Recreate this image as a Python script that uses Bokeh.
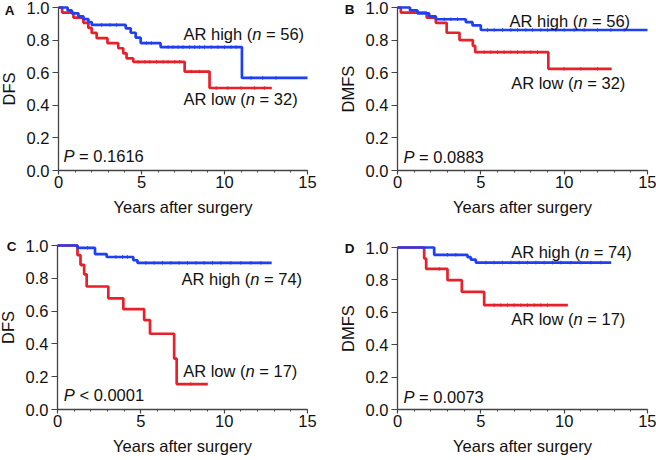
import numpy as np
from bokeh.plotting import figure
from bokeh.models import Range1d, FixedTicker, PrintfTickFormatter
from bokeh.layouts import column, row
from bokeh.core.properties import value
from bokeh.embed import file_html
from bokeh.resources import INLINE

FONT = "Liberation Sans"
FS = 16.5
BLUE = "#1f3ff2"
RED = "#e8202a"
AXC = "#444444"
TXT = "#111111"

# ---------------- data ----------------
x_ticks = [0, 5, 10, 15]
y_ticks = [0.0, 0.2, 0.4, 0.6, 0.8, 1.0]

# Panel A (DFS, AR high n=56 vs low n=32)
A_high_t = [0, 0.55, 0.8, 1.2, 1.5, 1.8, 2.0, 4.05, 4.35, 4.65, 4.95, 6.15, 11.05]
A_high_s = [1.0, 0.982, 0.964, 0.946, 0.929, 0.911, 0.893, 0.872, 0.845, 0.815, 0.782, 0.757, 0.568]
A_high_end = 15.0
A_high_cens = [2.6, 3.1, 3.5, 5.3, 5.6, 6.6, 6.9, 7.2, 7.5, 7.9, 8.2, 8.5, 8.8, 9.2, 9.6, 10.0, 10.4, 10.7, 11.6, 12.3, 13.1]
A_low_t = [0, 0.22, 0.9, 1.5, 1.8, 2.0, 2.3, 2.95, 3.6, 3.9, 4.1, 4.5, 7.6, 9.1]
A_low_s = [1.0, 0.969, 0.938, 0.906, 0.875, 0.844, 0.812, 0.781, 0.750, 0.719, 0.688, 0.667, 0.607, 0.506]
A_low_end = 12.85
A_low_cens = [4.8, 5.2, 5.5, 5.9, 6.3, 6.6, 7.0, 7.3, 8.0, 8.5, 9.5, 10.2, 11.0, 11.8, 12.4]

# Panel B (DMFS, AR high n=56 vs low n=32)
B_high_t = [0, 0.75, 1.2, 1.9, 2.3, 4.1, 4.5, 5.0]
B_high_s = [1.0, 0.982, 0.964, 0.946, 0.928, 0.910, 0.890, 0.862]
B_high_end = 15.0
B_high_cens = [2.8, 3.2, 3.6, 5.4, 5.8, 6.3, 6.8, 7.2, 7.7, 8.1, 8.6, 9.0, 9.5, 10.0, 10.6, 11.2, 12.0, 12.8, 13.6]
B_low_t = [0, 0.2, 1.75, 2.3, 2.95, 3.72, 4.52, 4.66, 9.05]
B_low_s = [1.0, 0.969, 0.938, 0.906, 0.845, 0.800, 0.765, 0.726, 0.624]
B_low_end = 12.85
B_low_cens = [5.2, 5.6, 6.0, 6.4, 6.8, 7.2, 7.6, 8.0, 8.4, 10.0, 11.0, 12.0]

# Panel C (DFS, AR high n=74 vs low n=17)
C_high_t = [0, 1.2, 2.25, 2.95, 4.55, 4.8]
C_high_s = [1.0, 0.986, 0.948, 0.930, 0.910, 0.894]
C_high_end = 12.85
C_high_cens = [1.8, 3.5, 3.9, 4.2, 5.3, 5.8, 6.3, 6.8, 7.3, 7.8, 8.3, 8.8, 9.3, 9.8, 10.4, 11.0, 11.6, 12.2]
C_low_t = [0, 1.2, 1.38, 1.6, 1.75, 3.05, 3.95, 5.2, 5.55, 7.0, 7.15]
C_low_s = [1.0, 0.941, 0.882, 0.824, 0.750, 0.678, 0.612, 0.545, 0.462, 0.310, 0.155]
C_low_end = 9.02
C_low_cens = [1.45, 8.0]

# Panel D (DMFS, AR high n=74 vs low n=17)
D_high_t = [0, 2.2, 4.2, 4.4, 4.7]
D_high_s = [1.0, 0.955, 0.940, 0.925, 0.907]
D_high_end = 12.82
D_high_cens = [3.0, 3.5, 5.3, 5.8, 6.3, 6.8, 7.3, 7.8, 8.3, 8.8, 9.3, 9.8, 10.4, 11.0, 11.6, 12.2]
D_low_t = [0, 1.6, 1.72, 3.0, 3.86, 5.2]
D_low_s = [1.0, 0.932, 0.868, 0.798, 0.726, 0.644]
D_low_end = 10.22
D_low_cens = [2.5, 5.8, 6.2, 6.6, 7.0, 7.4, 7.8, 8.2, 8.6, 9.0]

y_titles = {"A": "DFS", "B": "DMFS", "C": "DFS", "D": "DMFS"}
n_high = {"A": "56", "B": "56", "C": "74", "D": "74"}
n_low = {"A": "32", "B": "32", "C": "17", "D": "17"}
p_text = {"A": "= 0.1616", "B": "= 0.0883", "C": "< 0.0001", "D": "= 0.0073"}

# ---------------- helpers ----------------
ARIAL = {' ': 278, '(': 333, ')': 333, '=': 584, '<': 584, '.': 278, 'A': 667, 'R': 722,
         'P': 667, 'h': 556, 'i': 222, 'g': 556, 'l': 222, 'o': 556, 'w': 722, 'n': 556}


def tw(s):
    return sum(ARIAL.get(c, 556) for c in s) * FS / 1000.0


def rich_text(p, x, y, parts):
    off = 0.0
    for txt, ital in parts:
        lead = len(txt) - len(txt.lstrip(" "))
        off += tw(" " * lead)
        t = txt.strip(" ")
        p.text(x=[x], y=[y], text=[t], x_offset=off, text_font=value(FONT),
               text_font_size=f"{FS}px", text_font_style="italic" if ital else "normal",
               text_baseline="middle", text_align="left", text_color=TXT)
        off += tw(t) + tw(" " * (len(txt) - lead - len(t)))


def surv_at(ts, ss, t):
    i = int(np.searchsorted(np.array(ts), t, side="right")) - 1
    return ss[max(i, 0)]


def draw_curve(p, ts, ss, end, cens, color):
    xs = list(ts) + [end]
    ys = list(ss) + [ss[-1]]
    p.step(xs, ys, mode="after", line_color=color, line_width=2.7)
    cy = [surv_at(ts, ss, c) for c in cens]
    p.scatter(cens, cy, marker="dash", angle=np.pi / 2, size=3.5, line_color=color, line_width=1.0)


def make_fig(letter, W, H, x0px, x15px, y1px, y0px, letter_px):
    """The frame covers the whole panel; axes are pinned at t=0 and S=0.
    x0px/x15px: pixel columns of t=0 / t=15; y1px/y0px: pixel rows of S=1 / S=0."""
    kx = (x15px - x0px) / 15.0
    ky = (y0px - y1px) / 1.0
    xr = Range1d(-x0px / kx, (W - x0px) / kx)
    yr = Range1d((y0px - H) / ky, y0px / ky)
    p = figure(width=W, height=H, x_range=xr, y_range=yr,
               output_backend="svg", toolbar_location=None,
               min_border_left=0, min_border_right=0,
               min_border_top=0, min_border_bottom=0)
    p.outline_line_color = None
    p.grid.visible = False
    p.background_fill_color = "white"
    p.border_fill_color = "white"
    for ax in (p.xaxis[0], p.yaxis[0]):
        ax.fixed_location = 0
        ax.axis_line_color = AXC
        ax.axis_line_width = 1.3
        ax.major_tick_line_color = AXC
        ax.minor_tick_line_color = AXC
        ax.major_tick_line_width = 1.2
        ax.major_tick_in = 0
        ax.minor_tick_in = 0
        ax.major_label_text_font = FONT
        ax.major_label_text_font_size = f"{FS}px"
        ax.major_label_text_color = TXT
        ax.axis_label_text_font = FONT
        ax.axis_label_text_font_size = f"{FS}px"
        ax.axis_label_text_font_style = "normal"
        ax.axis_label_text_color = TXT
    xa = p.xaxis[0]
    xa.ticker = FixedTicker(ticks=x_ticks, minor_ticks=list(range(16)))
    xa.bounds = (0, 15)
    xa.major_tick_out = 4
    xa.minor_tick_out = 2
    xa.major_label_standoff = 1
    xa.axis_label = "Years after surgery"
    xa.axis_label_standoff = 7
    ya = p.yaxis[0]
    ya.ticker = FixedTicker(ticks=y_ticks, minor_ticks=[])
    ya.formatter = PrintfTickFormatter(format="%.1f")
    ya.bounds = (0, 1)
    ya.major_tick_out = 6
    ya.minor_tick_out = 0
    ya.major_label_standoff = 3
    ya.axis_label = y_titles[letter]
    ya.axis_label_standoff = 6
    # panel letter, placed from its pixel position in the panel
    lx = (letter_px[0] - x0px) / kx
    ly = (y0px - letter_px[1]) / ky
    p.text(x=[lx], y=[ly], text=[letter], text_font=value(FONT), text_font_size="13.5px",
           text_font_style="bold", text_align="center", text_baseline="middle", text_color=TXT)
    return p


# ---------------- panels ----------------
pA = make_fig("A", 328, 228, 58, 307, 7, 170, (9, 10))
draw_curve(pA, A_low_t, A_low_s, A_low_end, A_low_cens, RED)
draw_curve(pA, A_high_t, A_high_s, A_high_end, A_high_cens, BLUE)
rich_text(pA, 7.53, 0.84, [("AR high (", False), ("n", True), (" = " + n_high["A"] + ")", False)])
rich_text(pA, 7.53, 0.436, [("AR low (", False), ("n", True), (" = " + n_low["A"] + ")", False)])
rich_text(pA, 0.3, 0.086, [("P", True), (" " + p_text["A"], False)])

pB = make_fig("B", 328, 228, 69, 319, 7, 170, (21, 9))
draw_curve(pB, B_low_t, B_low_s, B_low_end, B_low_cens, RED)
draw_curve(pB, B_high_t, B_high_s, B_high_end, B_high_cens, BLUE)
rich_text(pB, 6.72, 0.92, [("AR high (", False), ("n", True), (" = " + n_high["B"] + ")", False)])
rich_text(pB, 6.82, 0.536, [("AR low (", False), ("n", True), (" = " + n_low["B"] + ")", False)])
rich_text(pB, 0.36, 0.082, [("P", True), (" " + p_text["B"], False)])

pC = make_fig("C", 328, 232, 57, 307, 17, 181, (11, 17.5))
draw_curve(pC, C_low_t, C_low_s, C_low_end, C_low_cens, RED)
draw_curve(pC, C_high_t, C_high_s, C_high_end, C_high_cens, BLUE)
rich_text(pC, 7.44, 0.795, [("AR high (", False), ("n", True), (" = " + n_high["C"] + ")", False)])
rich_text(pC, 7.54, 0.234, [("AR low (", False), ("n", True), (" = " + n_low["C"] + ")", False)])
rich_text(pC, 0.38, 0.087, [("P", True), (" " + p_text["C"], False)])

pD = make_fig("D", 328, 232, 69, 319, 19, 181, (21, 19.5))
draw_curve(pD, D_low_t, D_low_s, D_low_end, D_low_cens, RED)
draw_curve(pD, D_high_t, D_high_s, D_high_end, D_high_cens, BLUE)
rich_text(pD, 6.82, 0.973, [("AR high (", False), ("n", True), (" = " + n_high["D"] + ")", False)])
rich_text(pD, 6.82, 0.557, [("AR low (", False), ("n", True), (" = " + n_low["D"] + ")", False)])
rich_text(pD, 0.36, 0.078, [("P", True), (" " + p_text["D"], False)])

layout = column(row(pA, pB), row(pC, pD))
open("out.html", "w").write(file_html(layout, INLINE))
